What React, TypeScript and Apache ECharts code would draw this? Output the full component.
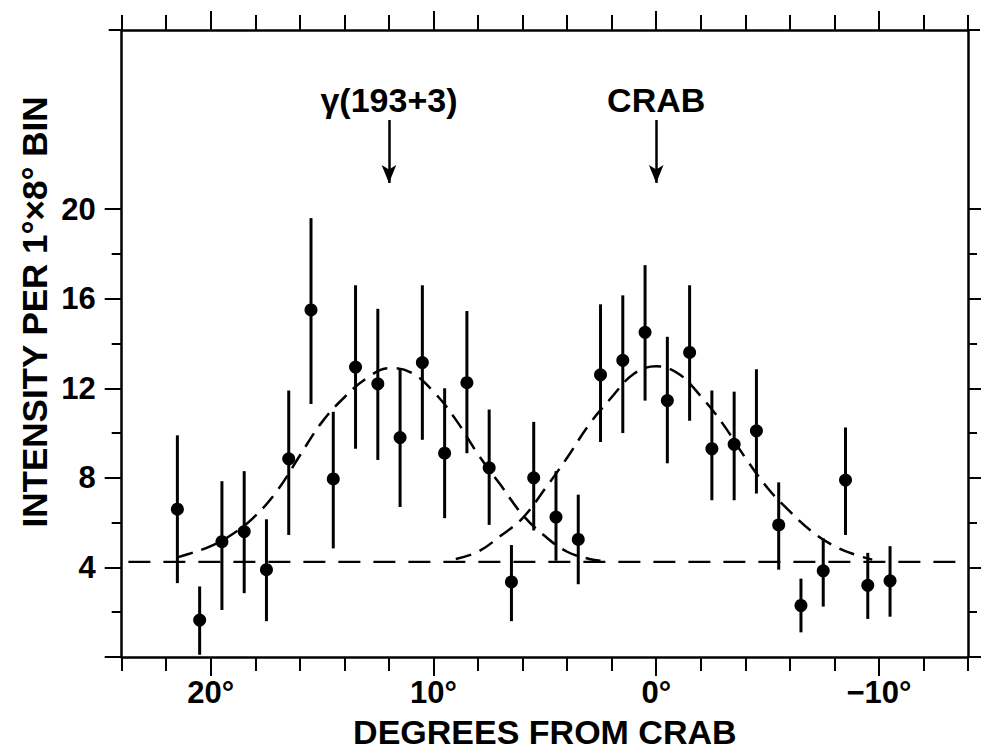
import React, { useEffect, useRef } from "react";
import * as echarts from "echarts";

// ---- data ----
const xDeg = [21.5, 20.5, 19.5, 18.5, 17.5, 16.5, 15.5, 14.5, 13.5, 12.5, 11.5, 10.5, 9.5, 8.5, 7.5, 6.5, 5.5, 4.5, 3.5, 2.5, 1.5, 0.5, -0.5, -1.5, -2.5, -3.5, -4.5, -5.5, -6.5, -7.5, -8.5, -9.5, -10.5];
const intensity = [6.6, 1.65, 5.15, 5.6, 3.9, 8.85, 15.5, 7.95, 12.95, 12.2, 9.8, 13.15, 9.1, 12.25, 8.45, 3.35, 8.0, 6.25, 5.25, 12.6, 13.25, 14.5, 11.45, 13.6, 9.3, 9.5, 10.1, 5.9, 2.3, 3.85, 7.9, 3.2, 3.4];
const errLow = [3.3, 0.1, 2.1, 2.85, 1.6, 5.45, 11.3, 4.85, 9.3, 8.8, 6.7, 9.7, 6.2, 9.1, 5.9, 1.6, 5.65, 4.3, 3.25, 9.6, 10.0, 11.45, 8.65, 10.55, 7.0, 7.0, 7.3, 3.9, 1.1, 2.25, 5.45, 1.7, 1.8];
const errHigh = [9.9, 3.15, 7.85, 8.3, 6.15, 11.9, 19.6, 10.95, 16.6, 15.55, 12.9, 16.6, 12.0, 15.45, 11.05, 5.0, 10.5, 8.3, 7.25, 15.75, 16.15, 17.5, 14.3, 16.6, 11.9, 11.85, 12.85, 7.8, 3.5, 5.3, 10.25, 4.65, 4.95];

const gammaCurveX = [21.5, 21, 20, 19, 18, 17, 16, 15, 14, 13, 12, 11, 10, 9, 8, 7, 6, 5, 4, 3, 2.5];
const gammaCurveY = [4.45, 4.6, 4.95, 5.5, 6.3, 7.45, 9.0, 10.5, 11.6, 12.45, 12.9, 12.7, 11.85, 10.6, 9.05, 7.7, 6.35, 5.4, 4.7, 4.38, 4.3];
const crabCurveX = [9, 8, 7, 6, 5, 4, 3, 2, 1, 0, -1, -2, -3, -4, -5, -6, -7, -8, -9, -9.7];
const crabCurveY = [4.38, 4.7, 5.4, 6.2, 7.5, 8.9, 10.4, 11.6, 12.65, 12.98, 12.65, 11.65, 10.4, 8.9, 7.55, 6.5, 5.6, 4.95, 4.55, 4.35];
const baselineX = [23.7, -13.9];
const baselineY = [4.25, 4.25];

const xTickLabels = [20, 10, 0, -10];
const yTickLabels = [4, 8, 12, 16, 20];
const annotationX = [12, 0];
const annotationText = ["γ(193+3)", "CRAB"];

const FONT = "Liberation Sans";

export default function App() {
  const ref = useRef<HTMLDivElement>(null);
  useEffect(() => {
    document.body.style.margin = "0";
    const chart = echarts.init(ref.current!, null, { renderer: "svg" });
    const W = 983, H = 753;
    const L = 121.7, R = 15, T = 30, B = 96;
    const pxDeg = (W - L - R) / 38;
    const pxUnit = (H - T - B) / 28;
    const axisLine = { show: true, onZero: false, lineStyle: { color: "#000", width: 2.5 } };
    const noLine = { show: false, onZero: false };
    const tick = (len: number) => ({ show: true, inside: false, length: len, lineStyle: { color: "#000", width: 2 } });
    const noLabel = { show: false };
    const labelFont = { fontFamily: FONT, fontSize: 31, fontWeight: "bold" as const, color: "#000" };

    const grids = [
      { left: L, right: R, top: T, bottom: B, containLabel: false, outerBoundsMode: "none" },
      { left: L, right: R, top: T + 8 * pxUnit, bottom: B, containLabel: false, outerBoundsMode: "none" },
      { left: L + 4 * pxDeg, right: R + 4 * pxDeg, top: T, bottom: B, containLabel: false, outerBoundsMode: "none" },
    ];

    const option: any = {
      animation: false,
      backgroundColor: "#fff",
      grid: grids,
      xAxis: [
        { type: "value", gridIndex: 0, position: "bottom", min: -14, max: 24, interval: 2, inverse: true, axisLine, axisTick: tick(14), axisLabel: noLabel, splitLine: { show: false },
          name: "DEGREES FROM CRAB", nameLocation: "middle", nameGap: 58, nameTextStyle: { fontFamily: FONT, fontSize: 34, fontWeight: "bold", color: "#000" } },
        { type: "value", gridIndex: 0, position: "top", min: -14, max: 24, interval: 2, inverse: true, axisLine, axisTick: tick(15), axisLabel: noLabel, splitLine: { show: false } },
        { type: "value", gridIndex: 1, show: false, min: -14, max: 24, inverse: true, axisLine: noLine },
        { type: "value", gridIndex: 2, position: "bottom", min: -10, max: 20, interval: 10, inverse: true, axisLine: noLine, axisTick: tick(19), splitLine: { show: false },
          axisLabel: { ...labelFont, margin: 20, formatter: (v: number) => (xTickLabels.includes(v) ? (v < 0 ? "−" + -v : String(v)) + "°" : "") } },
        { type: "value", gridIndex: 2, position: "top", min: -10, max: 20, interval: 10, inverse: true, axisLine: noLine, axisTick: tick(19), axisLabel: noLabel, splitLine: { show: false } },
      ],
      yAxis: [
        { type: "value", gridIndex: 0, position: "left", min: 0, max: 28, interval: 28, axisLine, axisTick: tick(13), axisLabel: noLabel, splitLine: { show: false } },
        { type: "value", gridIndex: 0, position: "right", min: 0, max: 28, interval: 28, axisLine, axisTick: tick(12), axisLabel: noLabel, splitLine: { show: false } },
        { type: "value", gridIndex: 1, position: "left", min: 0, max: 20, interval: 2, axisLine: noLine, axisTick: tick(10), axisLabel: noLabel, splitLine: { show: false } },
        { type: "value", gridIndex: 1, position: "left", min: 0, max: 20, interval: 4, axisLine: noLine, axisTick: tick(17), splitLine: { show: false },
          axisLabel: { ...labelFont, margin: 26, formatter: (v: number) => (yTickLabels.includes(v) ? String(v) : "") } },
        { type: "value", gridIndex: 1, position: "right", min: 0, max: 20, interval: 2, axisLine: noLine, axisTick: tick(9), axisLabel: noLabel, splitLine: { show: false } },
        { type: "value", gridIndex: 1, position: "right", min: 0, max: 20, interval: 4, axisLine: noLine, axisTick: tick(13), axisLabel: noLabel, splitLine: { show: false } },
        { type: "value", gridIndex: 2, show: false, min: 0, max: 28, axisLine: noLine },
      ],
      graphic: [
        { type: "text", x: 34, y: 312, rotation: Math.PI / 2, style: { text: "INTENSITY PER 1°×8° BIN", fontFamily: FONT, fontSize: 35, fontWeight: "bold", fill: "#000", align: "center", verticalAlign: "middle" } },
      ],
      series: [
        { type: "line", xAxisIndex: 0, yAxisIndex: 0, data: gammaCurveX.map((x, i) => [x, gammaCurveY[i]]), smooth: 0.4, showSymbol: false, symbol: "none",
          lineStyle: { color: "#000", width: 2.5, type: [16, 9] }, silent: true },
        { type: "line", xAxisIndex: 0, yAxisIndex: 0, data: crabCurveX.map((x, i) => [x, crabCurveY[i]]), smooth: 0.4, showSymbol: false, symbol: "none",
          lineStyle: { color: "#000", width: 2.5, type: [16, 9] }, silent: true },
        { type: "line", xAxisIndex: 0, yAxisIndex: 0, data: baselineX.map((x, i) => [x, baselineY[i]]), showSymbol: false, symbol: "none",
          lineStyle: { color: "#000", width: 2.3, type: [22, 13] }, silent: true },
        { type: "custom", xAxisIndex: 0, yAxisIndex: 0, data: xDeg.map((x, i) => [x, errLow[i], errHigh[i]]), encode: { x: 0, y: [1, 2] },
          renderItem: (_p: any, api: any) => {
            const a = api.coord([api.value(0), api.value(1)]);
            const b = api.coord([api.value(0), api.value(2)]);
            return { type: "line", shape: { x1: a[0], y1: a[1], x2: b[0], y2: b[1] }, style: { stroke: "#000", lineWidth: 3 } };
          }, silent: true },
        { type: "scatter", xAxisIndex: 0, yAxisIndex: 0, data: xDeg.map((x, i) => [x, intensity[i]]), symbol: "circle", symbolSize: 13, itemStyle: { color: "#000", opacity: 1 }, silent: true },
        { type: "scatter", xAxisIndex: 0, yAxisIndex: 0, data: annotationX.map((x, i) => [x, 24.88, annotationText[i]]), symbolSize: 1, itemStyle: { color: "transparent" }, silent: true,
          label: { show: true, position: "inside", formatter: (p: any) => p.value[2], fontFamily: FONT, fontSize: 34, fontWeight: "bold", color: "#000", opacity: 1 },
          markLine: { silent: true, symbol: ["none", "arrow"], symbolSize: [11, 18], label: { show: false }, lineStyle: { color: "#000", width: 2.5, type: "solid", opacity: 1 },
            data: annotationX.map((x) => [{ coord: [x, 23.98] }, { coord: [x, 21.17] }]) } },
      ],
    };
    chart.setOption(option);
    return () => chart.dispose();
  }, []);
  return <div ref={ref} style={{ position: "absolute", left: 0, top: 0, width: 983, height: 753 }} />;
}
